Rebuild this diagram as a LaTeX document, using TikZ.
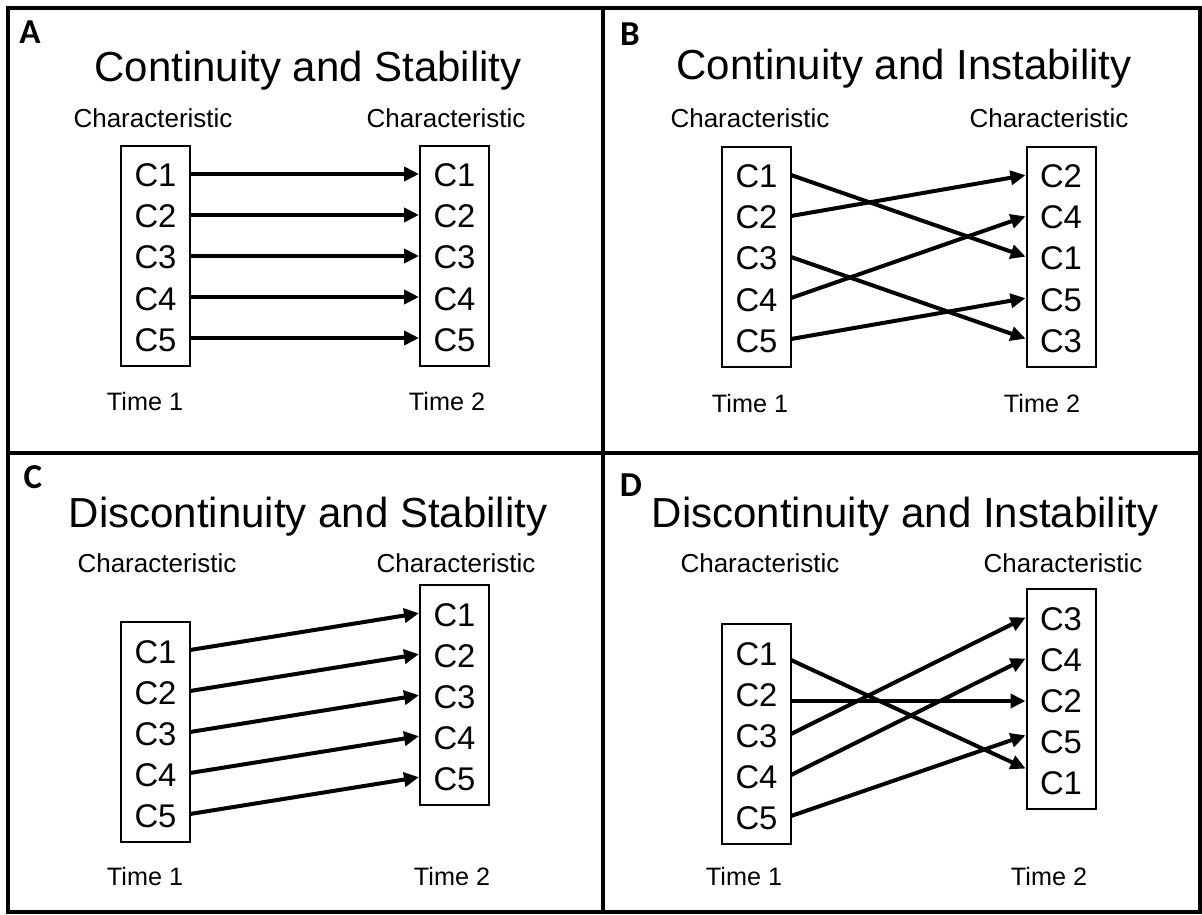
\documentclass[tikz,border=0pt]{standalone}
\usepackage{fontspec}
\setmainfont{Liberation Sans}
\newfontfamily\tagfont{Carlito}
\usetikzlibrary{positioning, fit, arrows.meta}

\tikzset{
  cell/.style={minimum width=34.5pt, minimum height=20.5pt, inner sep=0pt,
    outer sep=0pt, text height=14pt, text depth=1pt,
    font=\fontsize{16.4}{18}\selectfont},
  colbox/.style={draw, line width=1pt, inner xsep=0pt, inner ysep=3.75pt},
  link/.style={line width=2pt, -{Triangle[length=7.5pt, width=7pt]},
    shorten >=0.5pt},
  heading/.style={anchor=base, font=\fontsize{21}{25}\selectfont},
  charlbl/.style={anchor=base, font=\fontsize{13}{15}\selectfont},
  timelbl/.style={anchor=base, font=\fontsize{12.6}{15}\selectfont},
  panel/.style={anchor=base, font=\tagfont\bfseries\fontsize{17.5}{20}\selectfont}
}

\begin{document}
\begin{tikzpicture}[x=0.5pt, y=-0.5pt, node distance=0pt]
  \useasboundingbox (0,0) rectangle (1202,914);
  \draw[line width=2pt] (8,8) rectangle (1200,912);
  \draw[line width=1.6pt] (603,8) -- (603,912);
  \draw[line width=1.6pt] (8,453) -- (1200,453);

  % A: continuity and stability
  \node[panel] (tagA) at (30,44) {A};
  \node[heading] (headA) at (308,82) {Continuity and Stability};
  \node[charlbl] (chA1) at (153,128) {Characteristic};
  \node[charlbl] (chA2) at (446,128) {Characteristic};
  \node[cell] (al1) at (155.5,174) {C1};
  \node[cell, below=of al1] (al2) {C2};
  \node[cell, below=of al2] (al3) {C3};
  \node[cell, below=of al3] (al4) {C4};
  \node[cell, below=of al4] (al5) {C5};
  \node[colbox, fit=(al1)(al5)] (alb) {};
  \node[cell] (ar1) at (454.5,174) {C1};
  \node[cell, below=of ar1] (ar2) {C2};
  \node[cell, below=of ar2] (ar3) {C3};
  \node[cell, below=of ar3] (ar4) {C4};
  \node[cell, below=of ar4] (ar5) {C5};
  \node[colbox, fit=(ar1)(ar5)] (arb) {};
  \node[timelbl] (tmA1) at (145,410) {Time 1};
  \node[timelbl] (tmA2) at (447,410) {Time 2};
  \draw[link] (al1.east) -- (ar1.west);
  \draw[link] (al2.east) -- (ar2.west);
  \draw[link] (al3.east) -- (ar3.west);
  \draw[link] (al4.east) -- (ar4.west);
  \draw[link] (al5.east) -- (ar5.west);

  % B: continuity and instability
  \node[panel] (tagB) at (630,46) {B};
  \node[heading] (headB) at (904,80) {Continuity and Instability};
  \node[charlbl] (chB1) at (750,128) {Characteristic};
  \node[charlbl] (chB2) at (1049,128) {Characteristic};
  \node[cell] (bl1) at (756.5,175) {C1};
  \node[cell, below=of bl1] (bl2) {C2};
  \node[cell, below=of bl2] (bl3) {C3};
  \node[cell, below=of bl3] (bl4) {C4};
  \node[cell, below=of bl4] (bl5) {C5};
  \node[colbox, fit=(bl1)(bl5)] (blb) {};
  \node[cell] (br1) at (1061,175) {C2};
  \node[cell, below=of br1] (br2) {C4};
  \node[cell, below=of br2] (br3) {C1};
  \node[cell, below=of br3] (br4) {C5};
  \node[cell, below=of br4] (br5) {C3};
  \node[colbox, fit=(br1)(br5)] (brb) {};
  \node[timelbl] (tmB1) at (750,412) {Time 1};
  \node[timelbl] (tmB2) at (1042,412) {Time 2};
  \draw[link] (bl1.east) -- (br3.west);
  \draw[link] (bl2.east) -- (br1.west);
  \draw[link] (bl3.east) -- (br5.west);
  \draw[link] (bl4.east) -- (br2.west);
  \draw[link] (bl5.east) -- (br4.west);

  % C: discontinuity and stability
  \node[panel] (tagC) at (33,488) {C};
  \node[heading] (headC) at (308,527) {Discontinuity and Stability};
  \node[charlbl] (chC1) at (157,572) {Characteristic};
  \node[charlbl] (chC2) at (456,572) {Characteristic};
  \node[cell] (cl1) at (155.5,650) {C1};
  \node[cell, below=of cl1] (cl2) {C2};
  \node[cell, below=of cl2] (cl3) {C3};
  \node[cell, below=of cl3] (cl4) {C4};
  \node[cell, below=of cl4] (cl5) {C5};
  \node[colbox, fit=(cl1)(cl5)] (clb) {};
  \node[cell] (cr1) at (454.5,613) {C1};
  \node[cell, below=of cr1] (cr2) {C2};
  \node[cell, below=of cr2] (cr3) {C3};
  \node[cell, below=of cr3] (cr4) {C4};
  \node[cell, below=of cr4] (cr5) {C5};
  \node[colbox, fit=(cr1)(cr5)] (crb) {};
  \node[timelbl] (tmC1) at (145,885) {Time 1};
  \node[timelbl] (tmC2) at (452,885) {Time 2};
  \draw[link] (cl1.east) -- (cr1.west);
  \draw[link] (cl2.east) -- (cr2.west);
  \draw[link] (cl3.east) -- (cr3.west);
  \draw[link] (cl4.east) -- (cr4.west);
  \draw[link] (cl5.east) -- (cr5.west);

  % D: discontinuity and instability
  \node[panel] (tagD) at (631,496) {D};
  \node[heading] (headD) at (905,527) {Discontinuity and Instability};
  \node[charlbl] (chD1) at (760,572) {Characteristic};
  \node[charlbl] (chD2) at (1063,572) {Characteristic};
  \node[cell] (dl1) at (756.5,652) {C1};
  \node[cell, below=of dl1] (dl2) {C2};
  \node[cell, below=of dl2] (dl3) {C3};
  \node[cell, below=of dl3] (dl4) {C4};
  \node[cell, below=of dl4] (dl5) {C5};
  \node[colbox, fit=(dl1)(dl5)] (dlb) {};
  \node[cell] (dr1) at (1061,617) {C3};
  \node[cell, below=of dr1] (dr2) {C4};
  \node[cell, below=of dr2] (dr3) {C2};
  \node[cell, below=of dr3] (dr4) {C5};
  \node[cell, below=of dr4] (dr5) {C1};
  \node[colbox, fit=(dr1)(dr5)] (drb) {};
  \node[timelbl] (tmD1) at (744,885) {Time 1};
  \node[timelbl] (tmD2) at (1049,885) {Time 2};
  \draw[link] ([yshift=-4pt]dl1.east) -- ([yshift=6pt]dr5.west);
  \draw[link] ([yshift=-4pt]dl2.east) -- ([yshift=-1pt]dr3.west);
  \draw[link] (dl3.east) -- (dr1.west);
  \draw[link] (dl4.east) -- (dr2.west);
  \draw[link] (dl5.east) -- ([yshift=2.5pt]dr4.west);
\end{tikzpicture}
\end{document}
